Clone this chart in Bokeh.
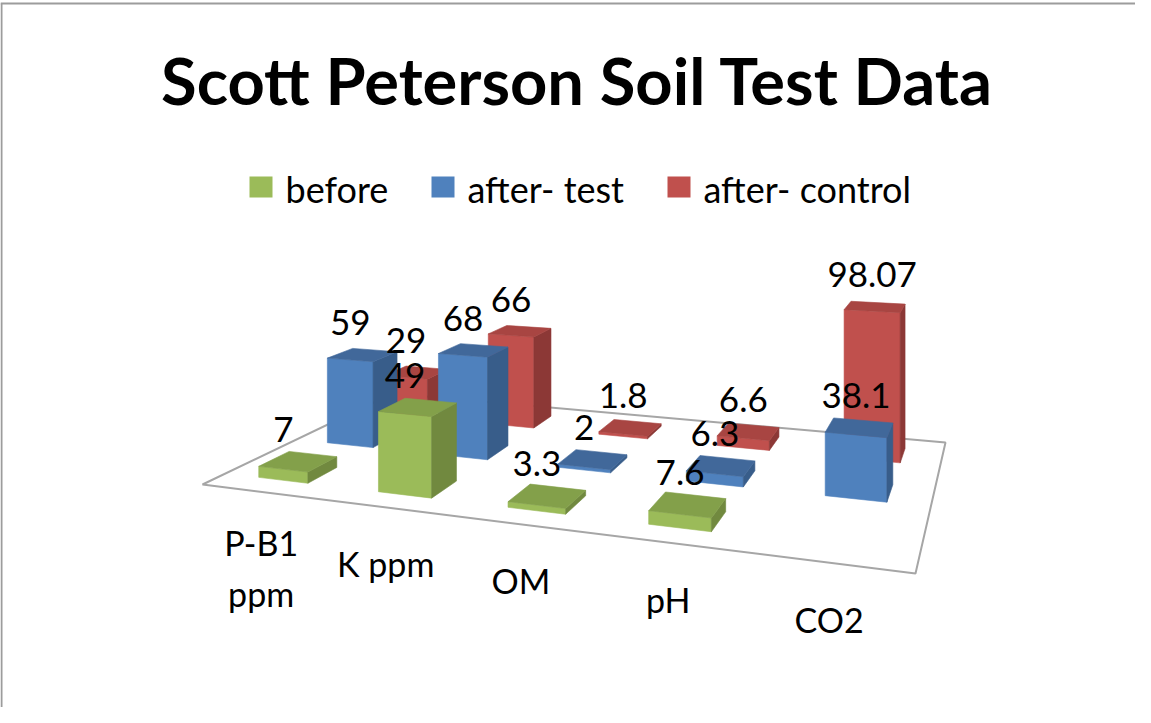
from bokeh.plotting import figure
from bokeh.models import Range1d, ColumnDataSource
from bokeh.core.properties import value
from bokeh.embed import file_html
from bokeh.resources import INLINE

# ---------------- data ----------------
categories = ["P-B1 ppm", "K ppm", "OM", "pH", "CO2"]
category_lines = [["P-B1", "ppm"], ["K ppm"], ["OM"], ["pH"], ["CO2"]]
series = ["before", "after- test", "after- control"]
before = [7, 49, 3.3, 7.6, None]
after_test = [59, 68, 2, 6.3, 38.1]
after_control = [29, 66, 1.8, 6.6, 98.07]
labels_before = ["7", "49", "3.3", "7.6", ""]
labels_test = ["59", "68", "2", "6.3", "38.1"]
labels_control = ["29", "66", "1.8", "6.6", "98.07"]
values = [before, after_test, after_control]
value_labels = [labels_before, labels_test, labels_control]

# ---------------- style ----------------
FONT = "Lato"
front_col = ["#9BBB59", "#4F81BD", "#C0504D"]
side_col = ["#71893F", "#385D8A", "#8C3836"]
top_col = ["#83A04A", "#41689A", "#A84542"]

# floor quad of the 3-D scene (screen px): front-left, front-right, back-right, back-left
FL, FR, BR, BL = (202, 484), (915, 573), (945, 442), (392, 393)
H_CAM = 243.0      # camera height in value units
BAR_W = 0.42       # bar width as fraction of category slot
BAR_D = 0.42       # bar depth as fraction of series row

# homography unit square -> floor quad
x0, y0 = FL; x1, y1 = FR; x2, y2 = BR; x3, y3 = BL
dx1, dx2, dx3 = x1 - x2, x3 - x2, x0 - x1 + x2 - x3
dy1, dy2, dy3 = y1 - y2, y3 - y2, y0 - y1 + y2 - y3
den = dx1 * dy2 - dx2 * dy1
g = (dx3 * dy2 - dx2 * dy3) / den
h = (dx1 * dy3 - dx3 * dy1) / den
a = x1 - x0 + g * x1; b = x3 - x0 + h * x3; c = x0
d = y1 - y0 + g * y1; e = y3 - y0 + h * y3; f = y0
vpu = (a / g, d / g)
vpv = (b / h, e / h)


def horizon_y(x):
    return vpu[1] + (x - vpu[0]) * (vpv[1] - vpu[1]) / (vpv[0] - vpu[0])


def proj(u, v, val=0.0):
    w = g * u + h * v + 1
    x = (a * u + b * v + c) / w
    y = (d * u + e * v + f) / w
    y = y - val / H_CAM * (y - horizon_y(x))
    return x, y


n_cat = len(categories)
n_ser = len(series)

W, H = 1135, 707
p = figure(width=W, height=H, output_backend="svg", toolbar_location=None,
           x_range=Range1d(0, W), y_range=Range1d(H, 0), min_border=0)
p.axis.visible = False
p.grid.visible = False
p.outline_line_color = None
p.background_fill_color = "white"

# chart border (top & left visible in reference)
p.segment(x0=[0, 1], y0=[3, 3], x1=[W, 1], y1=[3, H], line_color="#9C9C9C", line_width=2)

# floor
fx, fy = zip(*[proj(0, 0), proj(1, 0), proj(1, 1), proj(0, 1)])
p.patch(list(fx), list(fy), fill_color="white", line_color="#A6A6A6", line_width=2)

# bars (painter's order: back row first)
xs, ys, cols = [], [], []
lab_x, lab_y, lab_t = [], [], []
for r in reversed(range(n_ser)):
    vc = (r + 0.5) / n_ser
    v0, v1 = vc - BAR_D / (2 * n_ser), vc + BAR_D / (2 * n_ser)
    for i in range(n_cat):
        val = values[r][i]
        if val is None:
            continue
        uc = (i + 0.5) / n_cat
        u0, u1 = uc - BAR_W / (2 * n_cat), uc + BAR_W / (2 * n_cat)
        A, B, C, D = proj(u0, v0), proj(u1, v0), proj(u1, v1), proj(u0, v1)
        At, Bt, Ct, Dt = proj(u0, v0, val), proj(u1, v0, val), proj(u1, v1, val), proj(u0, v1, val)
        for face, col in (((A, B, Bt, At), front_col[r]),
                          ((B, C, Ct, Bt), side_col[r]),
                          ((At, Bt, Ct, Dt), top_col[r])):
            xs.append([q[0] for q in face])
            ys.append([q[1] for q in face])
            cols.append(col)
        tc = proj(uc, vc, val)
        lab_x.append((At[0] + Bt[0]) / 2)
        lab_y.append(tc[1])
        lab_t.append(value_labels[r][i])

src = ColumnDataSource(dict(xs=xs, ys=ys, c=cols))
p.patches("xs", "ys", source=src, fill_color="c", line_color="c", line_width=0.6)

p.text(x=lab_x, y=lab_y, text=lab_t, text_font=value(FONT), text_font_size="35px",
       text_align="center", text_baseline="middle", y_offset=-32, text_color="black")

# category labels
cx, cy, ct = [], [], []
for i, lines in enumerate(category_lines):
    px_, py_ = proj((i + 0.5) / n_cat, 0)
    off = 36 if len(lines) == 1 else 30
    for k, ln in enumerate(lines):
        cx.append(px_)
        cy.append(py_ + off + 51 * k)
        ct.append(ln)
p.text(x=cx, y=cy, text=ct, text_font=value(FONT), text_font_size="34px",
       text_align="center", text_baseline="top", text_color="black")

# title
p.text(x=[577], y=[79], text=["Scott Peterson Soil Test Data"], text_font=value(FONT),
       text_font_size="65px", text_font_style="bold", text_align="center",
       text_baseline="middle", text_color="black")

# legend
leg_x = [249, 431, 667]
p.quad(left=leg_x, right=[x + 23 for x in leg_x], top=[176] * 3, bottom=[197] * 3,
       fill_color=front_col, line_color=None)
p.text(x=[x + 36 for x in leg_x], y=[188] * 3, text=series, text_font=value(FONT),
       text_font_size="36px", text_baseline="middle", text_align="left", text_color="black")

open("out.html", "w").write(file_html(p, INLINE))
